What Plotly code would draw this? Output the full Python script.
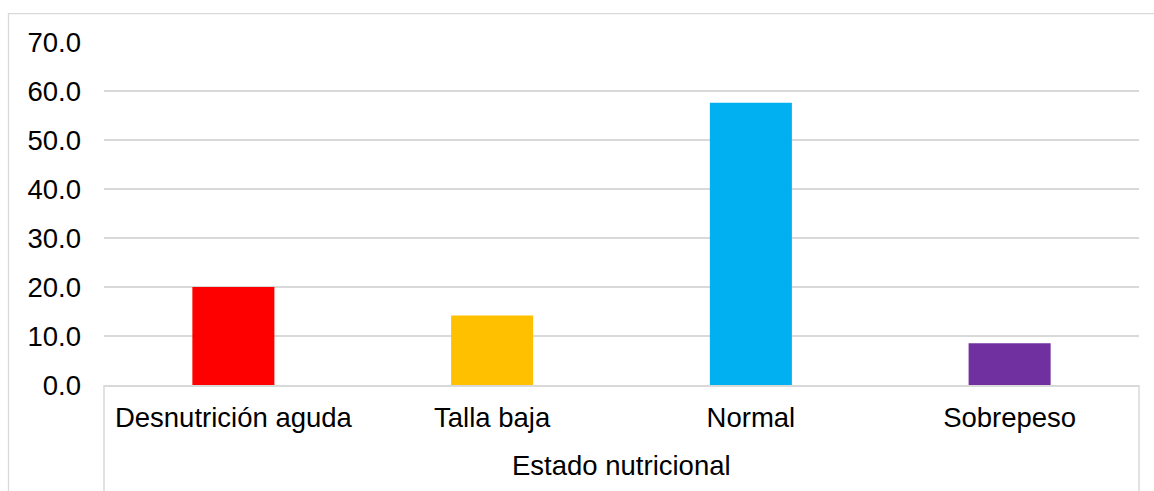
import plotly.graph_objects as go

# Estado nutricional (%)
categorias = ["Desnutrición aguda", "Talla baja", "Normal", "Sobrepeso"]
porcentajes = [20.0, 14.2, 57.6, 8.5]
colores = ["#ff0000", "#ffc000", "#00b0f0", "#7030a0"]
y_ticks = [0, 10, 20, 30, 40, 50, 60, 70]
y_tick_labels = [f"{v:.1f}" for v in y_ticks]
titulo_eje_x = "Estado nutricional"

W, H = 1154, 491
L, R, T, B = 104, 15, 42, 105.5
plot_w = W - L - R
plot_h = H - T - B

FONT = "Liberation Sans, Arial, sans-serif"
GRID = "#d9d9d9"

fig = go.Figure(
    go.Bar(
        x=categorias,
        y=porcentajes,
        marker=dict(color=colores, line=dict(width=0)),
        width=0.317,
        hoverinfo="x+y",
    )
)

def px_to_paper_x(px):
    return (px - L) / plot_w

def px_to_paper_y(py):
    return (H - B - py) / plot_h

shapes = [
    # outer chart border (left and top edges visible)
    dict(type="rect", xref="paper", yref="paper",
         x0=px_to_paper_x(8.5), x1=px_to_paper_x(W + 20),
         y0=px_to_paper_y(H + 20), y1=px_to_paper_y(13.5),
         line=dict(color=GRID, width=1.3), fillcolor="rgba(0,0,0,0)", layer="below"),
    # category-group boundary lines below the axis
    dict(type="line", xref="paper", yref="paper",
         x0=0, x1=0, y0=0, y1=px_to_paper_y(H + 5),
         line=dict(color=GRID, width=1.5)),
    dict(type="line", xref="paper", yref="paper",
         x0=1, x1=1, y0=0, y1=px_to_paper_y(H + 5),
         line=dict(color=GRID, width=1.5)),
]

annotations = [
    dict(text=titulo_eje_x, xref="paper", yref="paper",
         x=0.5, y=px_to_paper_y(466), xanchor="center", yanchor="middle",
         showarrow=False, font=dict(family=FONT, size=27.5, color="#000000")),
]

fig.update_layout(
    width=W, height=H,
    margin=dict(l=L, r=R, t=T, b=B, pad=0),
    paper_bgcolor="white", plot_bgcolor="white",
    showlegend=False,
    bargap=0.68,
    shapes=shapes,
    annotations=annotations,
    font=dict(family=FONT, size=27.5, color="#000000"),
    xaxis=dict(
        type="category",
        showgrid=False,
        showline=True, linecolor=GRID, linewidth=1.5,
        ticks="", ticklabelstandoff=7,
        tickfont=dict(family=FONT, size=27.5, color="#000000"),
        fixedrange=True,
    ),
    yaxis=dict(
        range=[0, 70],
        tickvals=y_ticks, ticktext=y_tick_labels,
        showgrid=True, gridcolor=GRID, gridwidth=1.5,
        zeroline=False, showline=False,
        ticks="", ticklabelstandoff=22,
        tickfont=dict(family=FONT, size=27.5, color="#000000"),
        fixedrange=True,
    ),
)

fig.write_html("out.html")
